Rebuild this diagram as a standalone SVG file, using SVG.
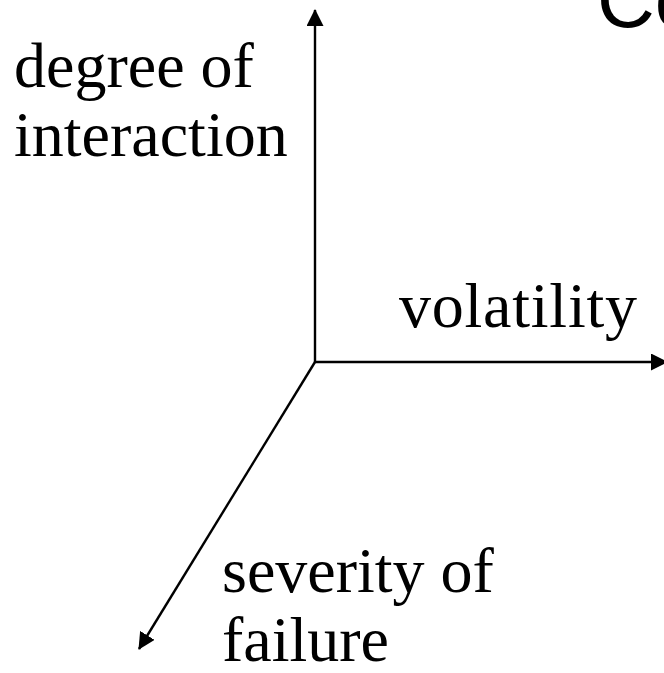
<svg xmlns="http://www.w3.org/2000/svg" width="664" height="673" viewBox="0 0 664 673">
<style>
.lbl{font-family:"Liberation Serif","Times New Roman",serif;font-size:64px;fill:#000}
.ttl{font-family:"Liberation Sans",Arial,sans-serif;font-size:80px;fill:#000}
.ax{stroke:#000;stroke-width:2.4;fill:none}
</style>
<defs>
<marker id="ah" viewBox="0 0 17 17" refX="16" refY="8.5" markerWidth="17" markerHeight="17" markerUnits="userSpaceOnUse" orient="auto">
<path d="M0,0 L17,8.5 L0,17 z" fill="#000"/>
</marker>
</defs>
<rect width="664" height="673" fill="#fff"/>
<g id="title"><text class="ttl" x="597" y="27">Co</text></g>
<g id="connectors">
<line class="ax" x1="315" y1="362" x2="315" y2="10" marker-end="url(#ah)"/>
<line class="ax" x1="315" y1="362" x2="667" y2="362" marker-end="url(#ah)"/>
<line class="ax" x1="315" y1="362" x2="139" y2="649" marker-end="url(#ah)"/>
</g>
<g id="label-interaction"><text class="lbl" x="14" y="87">degree of</text><text class="lbl" x="14" y="156">interaction</text></g>
<g id="label-volatility"><text class="lbl" x="399" y="327" textLength="238" lengthAdjust="spacing">volatility</text></g>
<g id="label-severity"><text class="lbl" x="222" y="592">severity of</text><text class="lbl" x="222" y="661">failure</text></g>
</svg>
